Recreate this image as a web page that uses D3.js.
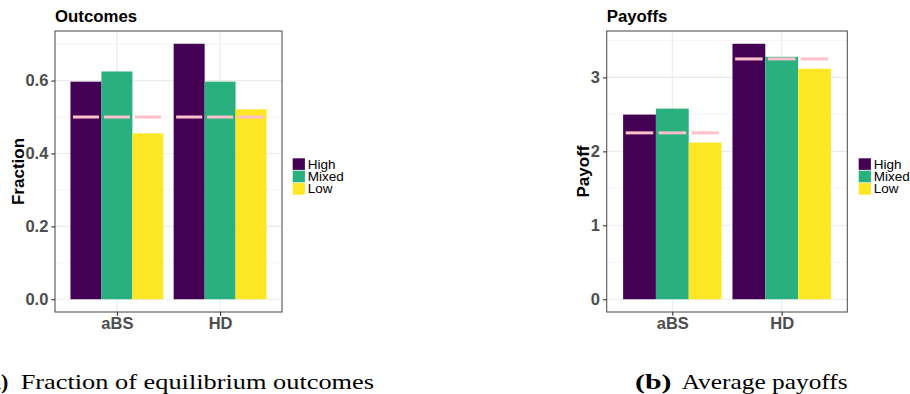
<!DOCTYPE html>
<html><head><meta charset="utf-8">
<script src="https://cdn.jsdelivr.net/npm/d3@7"></script>
<style>html,body{margin:0;padding:0;background:#fff;}svg{display:block;}</style>
</head><body>
<script>
const categories = ["aBS", "HD"];
const groups = ["High", "Mixed", "Low"];
const colors = ["#440154", "#2AB07F", "#FDE725"];
const fractionValues = [[0.597, 0.625, 0.455], [0.701, 0.597, 0.521]];
const fractionRef = [0.5, 0.5];
const fractionTicks = [0.0, 0.2, 0.4, 0.6];
const fractionMinor = [0.1, 0.3, 0.5, 0.7];
const payoffValues = [[2.497, 2.578, 2.119], [3.455, 3.279, 3.117]];
const payoffRef = [2.25, 3.25];
const payoffTicks = [0, 1, 2, 3];
const payoffMinor = [0.5, 1.5, 2.5, 3.5];

const W = 910, H = 394;
const svg = d3.select("body").append("svg").attr("width", W).attr("height", H);
const SANS = "'Liberation Sans', Arial, Helvetica, sans-serif";

function panel(opt) {
  const {x0, x1, y0, y1, values, refs, ticks, minor, fmt, title, ytitle, ytitleX, legendX} = opt;
  const g = svg.append("g");
  const maxV = d3.max(values.flat());
  const pad = maxV * 0.05;
  const y = d3.scaleLinear().domain([-pad, maxV + pad]).range([y1, y0]);
  const x = d3.scalePoint().domain(categories).range([x0, x1]).padding(0.6);
  const step = x.step();
  const bw = step * 0.3;
  const sub = d3.scaleBand().domain(groups).range([-1.5 * bw, 1.5 * bw]).padding(0);

  // minor grid
  g.selectAll(".mn").data(minor.filter(v => y(v) > y0 && y(v) < y1)).join("line")
    .attr("x1", x0).attr("x2", x1).attr("y1", d => y(d)).attr("y2", d => y(d))
    .attr("stroke", "#f2f2f2").attr("stroke-width", 0.8);
  // major grid
  g.selectAll(".mj").data(ticks).join("line")
    .attr("x1", x0).attr("x2", x1).attr("y1", d => y(d)).attr("y2", d => y(d))
    .attr("stroke", "#ebebeb").attr("stroke-width", 1.1);
  g.selectAll(".vg").data(categories).join("line")
    .attr("x1", d => x(d)).attr("x2", d => x(d)).attr("y1", y0).attr("y2", y1)
    .attr("stroke", "#ebebeb").attr("stroke-width", 1.1);

  // bars
  categories.forEach((c, ci) => {
    groups.forEach((gr, gi) => {
      const v = values[ci][gi];
      g.append("rect")
        .attr("x", x(c) + sub(gr)).attr("width", sub.bandwidth())
        .attr("y", y(v)).attr("height", y(0) - y(v))
        .attr("fill", colors[gi]);
    });
    groups.forEach((gr, gi) => {
      const cx = x(c) + sub(gr) + sub.bandwidth() / 2;
      const hw = sub.bandwidth() * 0.42;
      g.append("line")
        .attr("x1", cx - hw).attr("x2", cx + hw)
        .attr("y1", y(refs[ci])).attr("y2", y(refs[ci]))
        .attr("stroke", "#FFC0CB").attr("stroke-width", 3);
    });
  });

  // border
  g.append("rect").attr("x", x0).attr("y", y0).attr("width", x1 - x0).attr("height", y1 - y0)
    .attr("fill", "none").attr("stroke", "#555").attr("stroke-width", 1.1);

  // y axis
  const ya = g.append("g").attr("transform", `translate(${x0},0)`)
    .call(d3.axisLeft(y).tickValues(ticks).tickFormat(fmt).tickSize(3.7).tickPadding(3));
  ya.select(".domain").remove();
  ya.selectAll(".tick line").attr("stroke", "#333").attr("stroke-width", 1.1);
  ya.selectAll(".tick text").attr("fill", "#4d4d4d").style("font-family", SANS)
    .style("font-size", "16.5px").style("font-weight", "bold");

  const xa = g.append("g").attr("transform", `translate(0,${y1})`)
    .call(d3.axisBottom(x).tickSize(3.7).tickPadding(2));
  xa.select(".domain").remove();
  xa.selectAll(".tick line").attr("stroke", "#333").attr("stroke-width", 1.1);
  xa.selectAll(".tick text").attr("fill", "#4d4d4d").style("font-family", SANS)
    .style("font-size", "16.5px").style("font-weight", "bold");

  // title
  g.append("text").attr("x", x0).attr("y", 22).text(title)
    .style("font-family", SANS).style("font-size", "16.8px").style("font-weight", "bold").attr("fill", "#000");
  // y title
  g.append("text").attr("transform", `translate(${ytitleX},${(y0 + y1) / 2}) rotate(-90)`)
    .attr("text-anchor", "middle").text(ytitle)
    .style("font-family", SANS).style("font-size", "17px").style("font-weight", "bold").attr("fill", "#000");

  // legend
  const lg = g.append("g").attr("transform", `translate(${legendX},158.3)`);
  groups.forEach((gr, gi) => {
    lg.append("rect").attr("x", 0).attr("y", gi * 12.4).attr("width", 12.2).attr("height", 11.6)
      .attr("fill", colors[gi]);
    lg.append("text").attr("x", 15).attr("y", gi * 12.4 + 10.3).text(gr)
      .style("font-family", SANS).style("font-size", "13.5px").attr("fill", "#000");
  });
}

panel({x0: 55, x1: 282, y0: 31, y1: 312, values: fractionValues, refs: fractionRef,
  ticks: fractionTicks, minor: fractionMinor, fmt: d3.format(".1f"),
  title: "Outcomes", ytitle: "Fraction", ytitleX: 23.5, legendX: 292.7});
panel({x0: 606.7, x1: 847.3, y0: 31, y1: 312, values: payoffValues, refs: payoffRef,
  ticks: payoffTicks, minor: payoffMinor, fmt: d3.format("d"),
  title: "Payoffs", ytitle: "Payoff", ytitleX: 588.5, legendX: 858.7});

// captions
const SERIF = "'Liberation Serif', 'Times New Roman', serif";
svg.append("text").attr("x", 8.3).attr("y", 389).attr("text-anchor", "end").text("(a)")
  .style("font-family", SERIF).style("font-size", "22px").style("font-weight", "bold");
svg.append("text").attr("x", 20.7).attr("y", 389).text("Fraction of equilibrium outcomes")
  .attr("textLength", 353.3).attr("lengthAdjust", "spacingAndGlyphs")
  .style("font-family", SERIF).style("font-size", "22px");
svg.append("text").attr("x", 635).attr("y", 389).text("(b)")
  .attr("textLength", 36.5).attr("lengthAdjust", "spacingAndGlyphs")
  .style("font-family", SERIF).style("font-size", "22px").style("font-weight", "bold");
svg.append("text").attr("x", 681.7).attr("y", 389).text("Average payoffs")
  .attr("textLength", 166).attr("lengthAdjust", "spacingAndGlyphs")
  .style("font-family", SERIF).style("font-size", "22px");
</script>
</body></html>
